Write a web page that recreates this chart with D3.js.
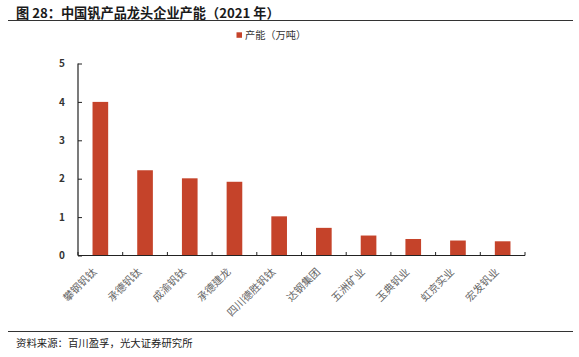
<!DOCTYPE html>
<html><head><meta charset="utf-8">
<script src="https://cdn.jsdelivr.net/npm/d3@7"></script>
<style>body{margin:0;background:#fff}svg{display:block}</style>
</head><body>
<svg id="c" width="579" height="357"></svg>
<script>
const categories = ["攀钢钒钛","承德钒钛","成渝钒钛","承德建龙","四川德胜钒钛","达钢集团","五洲矿业","玉典钒业","虹京实业","宏发钒业"];
const capacity = [4.0, 2.22, 2.01, 1.92, 1.02, 0.72, 0.52, 0.43, 0.39, 0.37];
const yTicks = [0,1,2,3,4,5];
const seriesName = "产能（万吨）";
const titleText = "图 28：中国钒产品龙头企业产能（2021 年）";
const sourceText = "资料来源：百川盈孚，光大证券研究所";

const svg = d3.select("#c");
const font = "'Noto Sans CJK SC','Noto Sans',sans-serif";
const barColor = "#c5432a";

svg.append("text").attr("x",16).attr("y",18).attr("font-family",font).attr("font-size",13.2).attr("font-weight","bold").attr("fill","#1a1a1a").text(titleText);
svg.append("line").attr("x1",8).attr("x2",573).attr("y1",20.5).attr("y2",20.5).attr("stroke","#333").attr("stroke-width",1.2);

const x = d3.scaleBand().domain(categories).range([78,525]).paddingInner(0.65).paddingOuter(0.325);
const y = d3.scaleLinear().domain([0,5]).range([255.5,63.5]);

// legend
svg.append("rect").attr("x",236.5).attr("y",32.3).attr("width",5.5).attr("height",5.5).attr("fill",barColor);
svg.append("text").attr("x",245).attr("y",38.8).attr("font-family",font).attr("font-size",10.2).attr("fill","#333").text(seriesName);

// bars
svg.append("g").selectAll("rect").data(capacity).join("rect")
  .attr("x",(d,i)=>x(categories[i])).attr("width",x.bandwidth())
  .attr("y",d=>y(d)).attr("height",d=>y(0)-y(d)).attr("fill",barColor);

// y axis
const ya = svg.append("g").attr("transform","translate(78,0)")
  .call(d3.axisRight(y).tickValues(yTicks).tickSize(4).tickFormat(d3.format("d")));
ya.select(".domain").attr("stroke","#222").attr("stroke-width",1.2).attr("d","M0,63.5V255.5");
ya.selectAll(".tick line").attr("stroke","#222");
ya.selectAll(".tick text").attr("x",-13).attr("text-anchor","end").attr("font-family",font).attr("font-size",10).attr("font-weight","bold").attr("fill","#333");

// x axis
const xa = svg.append("g").attr("transform","translate(0,255.5)")
  .call(d3.axisBottom(x).tickSize(0).tickFormat(""));
xa.select(".domain").attr("stroke","#222").attr("stroke-width",1.2).attr("d","M78,0H525");
const bounds = d3.range(categories.length+1).map(i=>78+i*(447/categories.length));
xa.selectAll(".sep").data(bounds).join("line").attr("class","sep")
  .attr("x1",d=>d).attr("x2",d=>d).attr("y1",0).attr("y2",-3.5).attr("stroke","#222");
xa.selectAll(".lab").data(categories).join("text").attr("class","lab")
  .attr("transform",d=>`translate(${x(d)+x.bandwidth()/2-3},${17}) rotate(-45)`)
  .attr("text-anchor","end").attr("font-family",font).attr("font-size",10.5).attr("fill","#666").text(d=>d);

// footer
svg.append("line").attr("x1",8).attr("x2",573).attr("y1",331.5).attr("y2",331.5).attr("stroke","#333").attr("stroke-width",1);
svg.append("text").attr("x",16).attr("y",346.5).attr("font-family",font).attr("font-size",10.4).attr("fill","#222").text(sourceText);
</script>
</body></html>
